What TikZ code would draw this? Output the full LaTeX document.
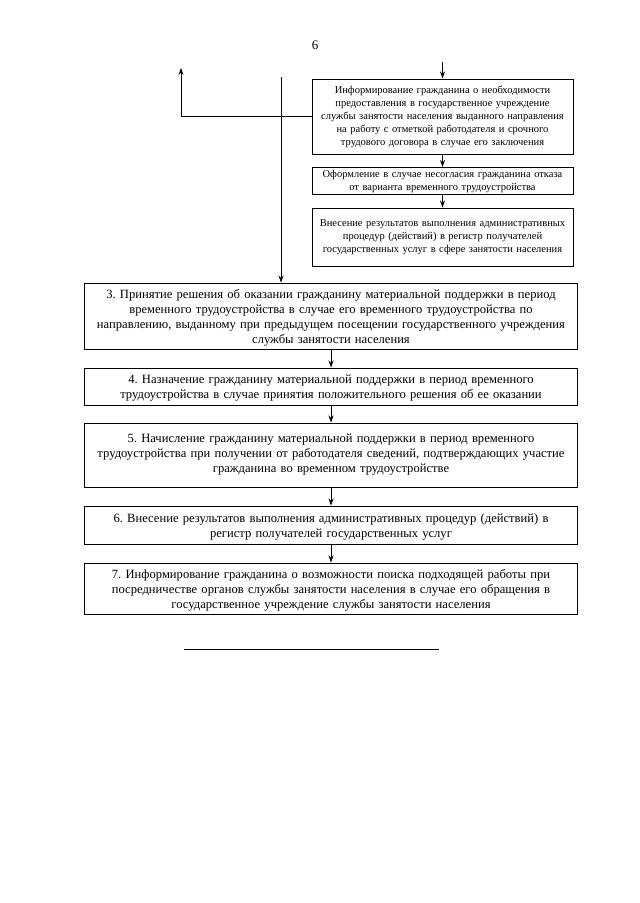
\documentclass[tikz,border=0pt]{standalone}
\usepackage{fontspec}
\setmainfont{Liberation Serif}
\usetikzlibrary{arrows.meta}
\frenchspacing
\begin{document}
\begin{tikzpicture}[x=1pt,y=-1pt,
 bigbox/.style={draw, line width=1pt, minimum width=493pt, text width=491pt, align=center, inner sep=0pt, font=\fontsize{12.6}{15}\selectfont},
 smallbox/.style={draw, line width=1pt, minimum width=261pt, text width=257pt, align=center, inner sep=0pt, font=\fontsize{10.5}{13}\selectfont},
 arr/.style={-{Stealth[length=7pt,width=5pt]}, line width=0.8pt},
 plain/.style={line width=0.8pt}]
\useasboundingbox (0,0) rectangle (640,903);
\fill[white] (0,0) rectangle (640,903);

\node[font=\fontsize{13}{15}\selectfont, inner sep=0pt] (pg) at (315,45) {6};

\node[smallbox, minimum height=75pt] (s1) at (442.5,116.5) {Информирование гражданина о необходимости\\предоставления в государственное учреждение\\службы занятости населения выданного направления\\на работу с отметкой работодателя и срочного\\трудового договора в случае его заключения};
\node[smallbox, minimum height=27pt] (s2) at (442.5,181) {Оформление в случае несогласия гражданина отказа\\от варианта временного трудоустройства};
\node[smallbox, minimum height=58pt] (s3) at (442.5,237) {Внесение результатов выполнения административных\\процедур (действий) в регистр получателей\\государственных услуг в сфере занятости населения};

\node[bigbox, minimum height=66pt] (b3) at (331,316) {\rule{0pt}{12pt}3. Принятие решения об оказании гражданину материальной поддержки в период\\временного трудоустройства в случае его временного трудоустройства по\\направлению, выданному при предыдущем посещении государственного учреждения\\службы занятости населения};
\node[bigbox, minimum height=37pt] (b4) at (331,386.5) {\rule{0pt}{12pt}4. Назначение гражданину материальной поддержки в период временного\\трудоустройства в случае принятия положительного решения об ее оказании};
\node[bigbox, minimum height=64pt] (b5) at (331,455) {5. Начисление гражданину материальной поддержки в период временного\\трудоустройства при получении от работодателя сведений, подтверждающих участие\\гражданина во временном трудоустройстве\\[2pt]};
\node[bigbox, minimum height=38pt] (b6) at (331,525) {\rule{0pt}{12pt}6. Внесение результатов выполнения административных процедур (действий) в\\регистр получателей государственных услуг};
\node[bigbox, minimum height=51pt] (b7) at (331,588.5) {\rule{0pt}{12pt}7. Информирование гражданина о возможности поиска подходящей работы при\\посредничестве органов службы занятости населения в случае его обращения в\\государственное учреждение службы занятости населения};

\coordinate (in) at (442.5,62);
\coordinate (up) at (181,68);
\coordinate (vtop) at (281,77);
\coordinate (l1) at (184,649);
\coordinate (l2) at (439,649);

\draw[arr] (in) -- (s1.north);
\draw[arr] (s1) -- (s2);
\draw[arr] (s2) -- (s3);
\draw[arr] (s1.west) -| (up);
\draw[arr] (vtop) -- (vtop |- b3.north);
\draw[arr] (b3) -- (b4);
\draw[arr] (b4) -- (b5);
\draw[arr] (b5) -- (b6);
\draw[arr] (b6) -- (b7);
\draw[plain] (l1) -- (l2);
\end{tikzpicture}
\end{document}
